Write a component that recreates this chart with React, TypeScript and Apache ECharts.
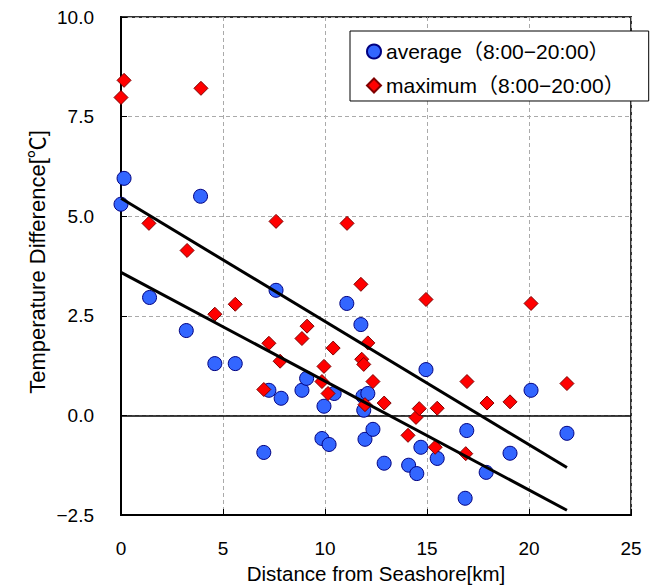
import React, { useEffect, useRef } from "react";
import * as echarts from "echarts";

const averageData: number[][] = [
  [0.0, 5.3], [0.15, 5.95], [1.4, 2.96], [3.2, 2.13], [3.9, 5.5], [4.6, 1.3], [5.6, 1.3],
  [7.0, -0.93], [7.25, 0.63], [7.6, 3.14], [7.85, 0.43], [8.87, 0.63], [9.1, 0.93],
  [9.85, -0.58], [9.95, 0.23], [10.2, -0.73], [10.45, 0.55], [11.07, 2.81], [11.76, 2.28],
  [11.86, 0.48], [11.9, 0.13], [11.96, -0.6], [12.1, 0.55], [12.35, -0.35], [12.9, -1.2],
  [14.1, -1.25], [14.5, -1.46], [14.7, -0.8], [14.95, 1.15], [15.5, -1.08], [16.95, -0.38],
  [16.87, -2.08], [17.9, -1.43], [19.07, -0.95], [20.1, 0.63], [21.86, -0.45],
];

const maximumData: number[][] = [
  [0.0, 7.98], [0.15, 8.41], [1.37, 4.82], [3.24, 4.14], [3.92, 8.21], [4.6, 2.54], [5.6, 2.79],
  [7.0, 0.65], [7.25, 1.81], [7.6, 4.87], [7.8, 1.36], [8.87, 1.93], [9.12, 2.24], [9.85, 0.85],
  [9.95, 1.23], [10.15, 0.55], [10.4, 1.69], [11.08, 4.82], [11.76, 3.29], [11.8, 1.41],
  [11.9, 1.28], [11.96, 0.27], [12.1, 1.82], [12.35, 0.85], [12.9, 0.31], [14.07, -0.5],
  [14.46, -0.05], [14.62, 0.17], [14.95, 2.91], [15.4, -0.8], [15.5, 0.18], [16.9, -0.96],
  [16.96, 0.85], [17.94, 0.31], [19.07, 0.34], [20.1, 2.81], [21.86, 0.8],
];

const maximumTrend: number[][] = [[0, 5.45], [21.86, -1.31]];
const averageTrend: number[][] = [[0, 3.59], [21.86, -2.38]];

const seriesNames = ["average（8:00−20:00）", "maximum（8:00−20:00）"];
const xAxisName = "Distance from Seashore[km]";
const yAxisName = "Temperature Difference[℃]";

const FONT = "'Liberation Sans', Arial, 'Noto Sans CJK JP', sans-serif";

export default function App() {
  const ref = useRef<HTMLDivElement>(null);
  useEffect(() => {
    if (!ref.current) return;
    const chart = echarts.init(ref.current, null, { renderer: "svg" });
    const dashed = { color: "#aaaaaa", type: [4, 3] as any, width: 1 };
    chart.setOption({
      animation: false,
      backgroundColor: "#ffffff",
      textStyle: { fontFamily: FONT, color: "#000" },
      grid: {
        left: 121, right: 23, top: 17, bottom: 73,
        containLabel: false,
        outerBoundsMode: "none",
        show: true, borderColor: "#333", borderWidth: 2, backgroundColor: "#fff",
      },
      legend: {
        orient: "vertical",
        left: 350, top: 31,
        padding: [10, 24, 5, 16],
        itemGap: 13,
        itemWidth: 14, itemHeight: 14,
        backgroundColor: "#fff",
        borderColor: "#000", borderWidth: 1,
        textStyle: { fontSize: 21, fontFamily: FONT, color: "#000" },
        data: seriesNames,
      },
      xAxis: {
        type: "value", min: 0, max: 25, interval: 5,
        name: xAxisName, nameLocation: "middle", nameGap: 48,
        nameTextStyle: { fontSize: 20.5, fontFamily: FONT, color: "#000" },
        axisLine: { show: true, onZero: false, lineStyle: { color: "#000", width: 2 } },
        axisTick: { show: true, inside: true, length: 6, lineStyle: { color: "#000", width: 1 } },
        axisLabel: { fontSize: 19, margin: 24, color: "#000", fontFamily: FONT },
        splitLine: { show: true, lineStyle: dashed },
      },
      yAxis: {
        type: "value", min: -2.5, max: 10, interval: 2.5,
        axisLine: { show: true, onZero: false, lineStyle: { color: "#000", width: 2 } },
        axisTick: { show: true, inside: true, length: 6, lineStyle: { color: "#000", width: 1 } },
        axisLabel: {
          fontSize: 19, margin: 27, color: "#000", fontFamily: FONT,
          formatter: (v: number) => v.toFixed(1).replace("-", "−"),
        },
        splitLine: { show: true, lineStyle: dashed },
      },
      graphic: [
        {
          type: "text",
          x: 37, y: 262,
          rotation: Math.PI / 2,
          style: {
            text: yAxisName, fontSize: 22, fontFamily: FONT, fill: "#000",
            align: "center", verticalAlign: "middle",
          },
        },
      ],
      series: [
        {
          name: seriesNames[0],
          type: "scatter",
          symbol: "circle",
          symbolSize: 14,
          data: averageData,
          itemStyle: { color: "#3366ff", borderColor: "#000080", borderWidth: 1, opacity: 1 },
          markLine: {
            silent: true, symbol: "none", label: { show: false },
            lineStyle: { color: "#000", type: "solid", width: 1.5 },
            data: [{ yAxis: 0 }],
            z: 1,
          },
          z: 3,
        },
        {
          name: seriesNames[1],
          type: "scatter",
          symbol: "diamond",
          symbolSize: 14,
          data: maximumData,
          itemStyle: { color: "#ff0000", borderColor: "#800000", borderWidth: 1, opacity: 1 },
          z: 4,
        },
        {
          name: "maxTrend",
          type: "line",
          data: maximumTrend,
          symbol: "none",
          lineStyle: { color: "#000", width: 3 },
          silent: true,
          z: 5,
        },
        {
          name: "avgTrend",
          type: "line",
          data: averageTrend,
          symbol: "none",
          lineStyle: { color: "#000", width: 3 },
          silent: true,
          z: 5,
        },
      ],
    });
    return () => chart.dispose();
  }, []);
  return <div ref={ref} style={{ width: 654, height: 588, position: "absolute", left: 0, top: 0 }} />;
}
